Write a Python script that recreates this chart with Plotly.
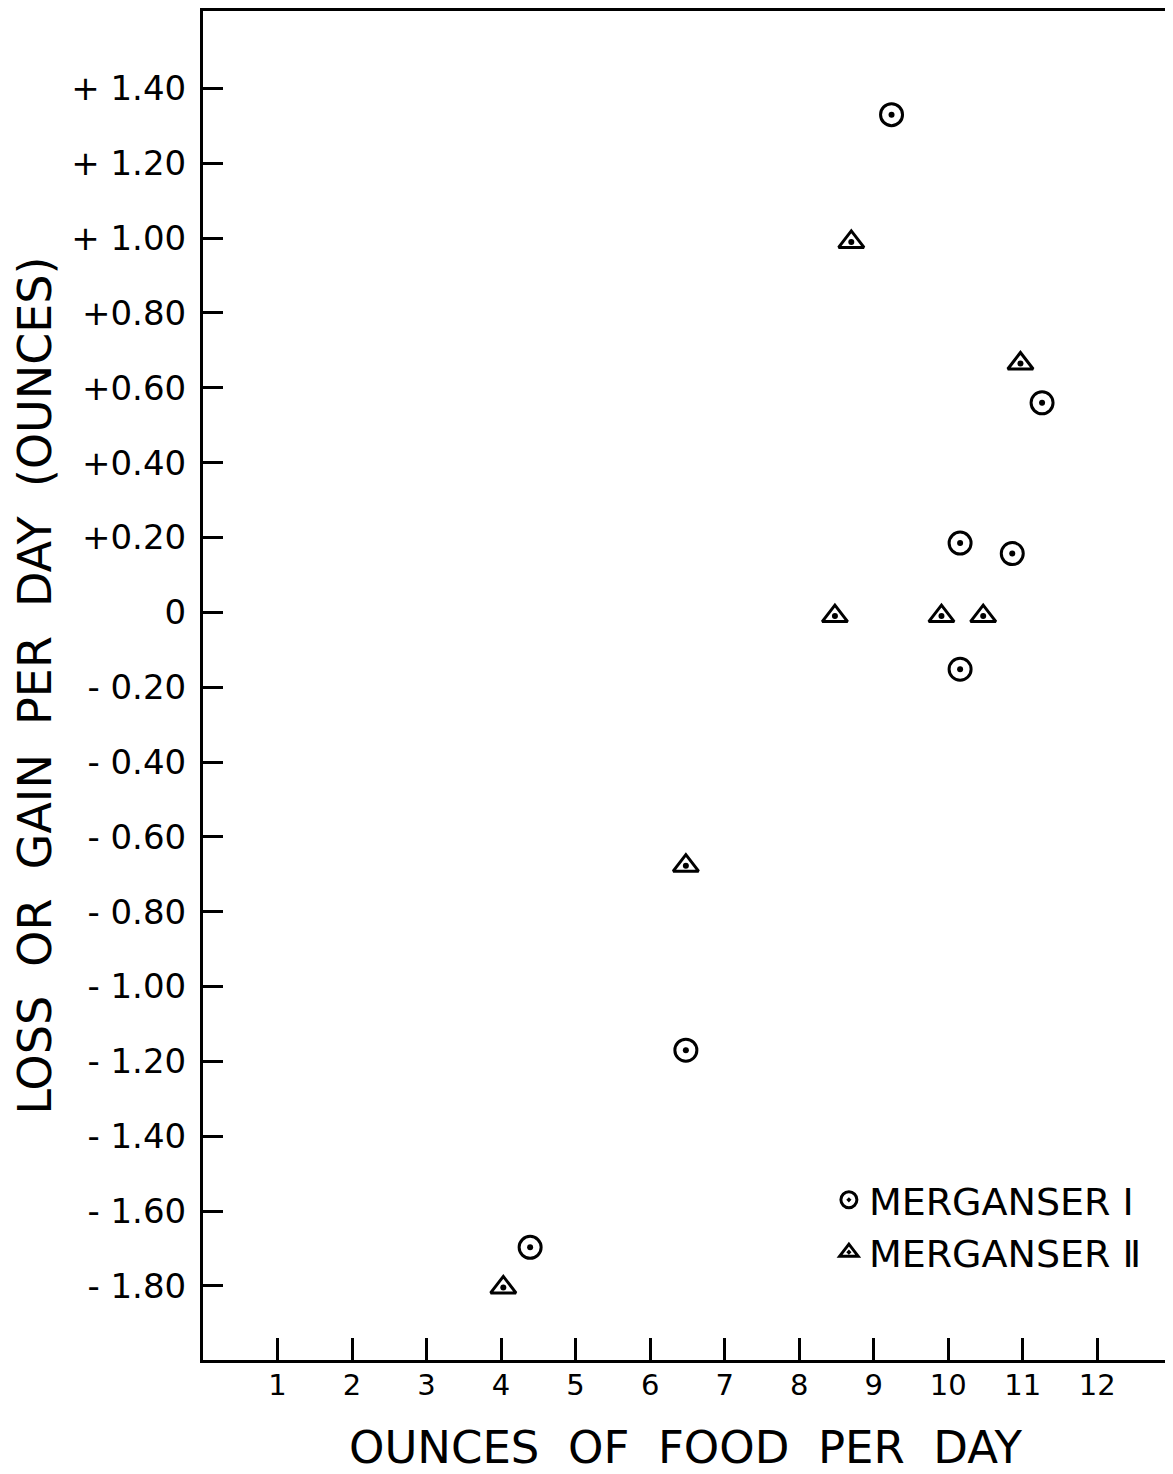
import plotly.graph_objects as go

# Merganser I (circle with dot)
m1_food = [9.24, 11.26, 10.16, 10.86, 10.16, 6.48, 4.39]
m1_change = [1.33, 0.56, 0.185, 0.157, -0.152, -1.17, -1.697]

# Merganser II (triangle with dot)
m2_food = [8.70, 10.97, 8.48, 9.91, 10.47, 6.48, 4.03]
m2_change = [0.99, 0.665, -0.01, -0.01, -0.01, -0.677, -1.804]

x_ticks = [1, 2, 3, 4, 5, 6, 7, 8, 9, 10, 11, 12]
x_tick_text = ["1", "2", "3", "4", "5", "6", "7", "8", "9", "10", "11", "12"]
y_ticks = [1.4, 1.2, 1.0, 0.8, 0.6, 0.4, 0.2, 0, -0.2, -0.4, -0.6, -0.8,
           -1.0, -1.2, -1.4, -1.6, -1.8]
y_tick_text = ["+ 1.40", "+ 1.20", "+ 1.00", "+0.80", "+0.60", "+0.40", "+0.20",
               "0", "- 0.20", "- 0.40", "- 0.60", "- 0.80", "- 1.00", "- 1.20",
               "- 1.40", "- 1.60", "- 1.80"]

FONT = "DejaVu Sans"

fig = go.Figure()
fig.add_trace(go.Scatter(
    x=m1_food, y=m1_change, mode="markers", name="MERGANSER Ⅰ",
    marker=dict(symbol="circle-open-dot", size=22, color="black",
                line=dict(color="black", width=3)),
))
fig.add_trace(go.Scatter(
    x=m2_food, y=m2_change, mode="markers", name="MERGANSER Ⅱ",
    marker=dict(symbol="triangle-up-open-dot", size=22, color="black",
                line=dict(color="black", width=3)),
))
# centre dots
fig.add_trace(go.Scatter(
    x=m1_food + m2_food, y=m1_change + m2_change, mode="markers",
    showlegend=False, hoverinfo="skip",
    marker=dict(symbol="circle", size=6, color="black"),
))

fig.update_layout(
    width=1165, height=1466,
    margin=dict(l=194.5, r=4.5, t=2.5, b=113.5),
    paper_bgcolor="white", plot_bgcolor="white",
    font=dict(family=FONT, color="black"),
    showlegend=True,
    legend=dict(x=0.6486, y=0.1419, xanchor="left", yanchor="top",
                font=dict(size=38, family=FONT, color="black"),
                bgcolor="rgba(0,0,0,0)", borderwidth=0,
                itemsizing="trace", tracegroupgap=0),
)
fig.update_xaxes(
    range=[0, 12.95], tickmode="array", tickvals=x_ticks, ticktext=x_tick_text,
    ticks="inside", ticklen=22, tickwidth=2.5, tickcolor="black",
    showline=True, linecolor="black", linewidth=3, mirror=True,
    showgrid=False, zeroline=False, automargin=False,
    tickfont=dict(size=29, family=FONT), ticklabelstandoff=-3,
    title=dict(text="OUNCES  OF  FOOD  PER  DAY", font=dict(size=45, family=FONT), standoff=38),
)
fig.update_yaxes(
    range=[-1.998, 1.607], tickmode="array", tickvals=y_ticks, ticktext=y_tick_text,
    ticks="inside", ticklen=20, tickwidth=2.5, tickcolor="black",
    showline=True, linecolor="black", linewidth=3, mirror=True,
    showgrid=False, zeroline=False, automargin=False,
    tickfont=dict(size=34, family=FONT), ticklabelstandoff=7,
    title=dict(text="LOSS  OR  GAIN  PER  DAY  (OUNCES)", font=dict(size=46, family=FONT), standoff=14),
)

fig.write_html("out.html")
